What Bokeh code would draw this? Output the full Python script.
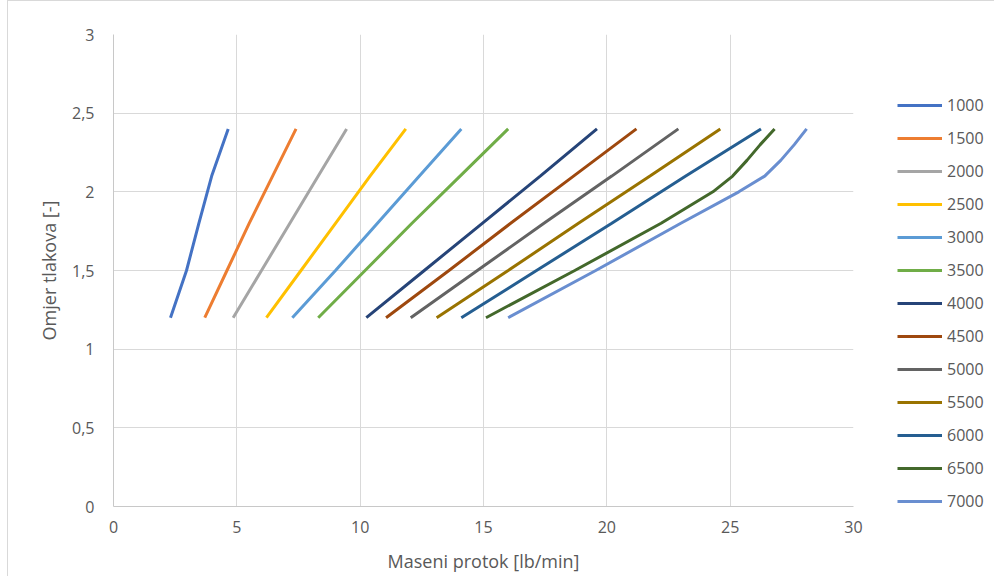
from bokeh.plotting import figure
from bokeh.models import Range1d, FixedTicker, Legend, LegendItem
from bokeh.embed import file_html
from bokeh.resources import INLINE

# Pressure ratio (y) and mass flow (x, lb/min) per speed line
labels = ["1000", "1500", "2000", "2500", "3000", "3500", "4000",
          "4500", "5000", "5500", "6000", "6500", "7000"]
colors = ["#4472C4", "#ED7D31", "#A5A5A5", "#FFC000", "#5B9BD5", "#70AD47",
          "#264478", "#9E480E", "#636363", "#997300", "#255E91", "#43682B", "#698ED0"]

pr_lin = [1.2, 1.5, 1.8, 2.1, 2.4]
pr_curve = [1.2, 1.5, 1.8, 2.0, 2.1, 2.2, 2.3, 2.4]

flow_1000 = [2.31, 2.96, 3.46, 3.98, 4.65]
flow_1500 = [3.7, 4.6, 5.5, 6.45, 7.4]
flow_2000 = [4.85, 6.0, 7.15, 8.3, 9.45]
flow_2500 = [6.2, 7.6, 9.0, 10.4, 11.85]
flow_3000 = [7.25, 9.0, 10.7, 12.4, 14.1]
flow_3500 = [8.3, 10.2, 12.1, 14.05, 16.0]
flow_4000 = [10.25, 12.6, 14.95, 17.3, 19.6]
flow_4500 = [11.05, 13.6, 16.1, 18.65, 21.2]
flow_5000 = [12.05, 14.75, 17.45, 20.2, 22.9]
flow_5500 = [13.1, 16.0, 18.85, 21.75, 24.6]
flow_6000 = [14.1, 17.15, 20.2, 23.2, 26.25]
flow_6500 = [15.1, 18.7, 22.2, 24.3, 25.1, 25.68, 26.22, 26.8]
flow_7000 = [16.0, 19.55, 23.0, 25.35, 26.4, 27.05, 27.6, 28.1]

flows = [flow_1000, flow_1500, flow_2000, flow_2500, flow_3000, flow_3500, flow_4000,
         flow_4500, flow_5000, flow_5500, flow_6000, flow_6500, flow_7000]
prs = [pr_lin] * 11 + [pr_curve, pr_curve]

x_ticks = [0, 5, 10, 15, 20, 25, 30]
y_ticks = [0, 0.5, 1, 1.5, 2, 2.5, 3]
y_tick_labels = ["0", "0,5", "1", "1,5", "2", "2,5", "3"]

FONT = "Open Sans"
TXT = "#595959"

p = figure(frame_width=740, frame_height=472, output_backend="svg", toolbar_location=None,
           x_range=Range1d(0, 30), y_range=Range1d(0, 3),
           min_border_left=105, min_border_right=0, min_border_top=33, min_border_bottom=70)
p.styles = {"margin-left": "7px",
            "border-left": "1px solid #d9d9d9", "border-top": "1px solid #d9d9d9"}
p.outline_line_color = None
p.background_fill_color = "white"
p.border_fill_color = "white"

p.xaxis.ticker = FixedTicker(ticks=x_ticks)
p.yaxis.ticker = FixedTicker(ticks=y_ticks)
p.yaxis.major_label_overrides = {t: s for t, s in zip(y_ticks, y_tick_labels)}

for ax in (p.xaxis, p.yaxis):
    ax.axis_line_color = "#c8c8c8"
    ax.major_tick_line_color = None
    ax.minor_tick_line_color = None
    ax.major_tick_out = 0
    ax.major_label_text_font = FONT
    ax.major_label_text_font_size = "16px"
    ax.major_label_text_color = TXT
    ax.axis_label_text_font = FONT
    ax.axis_label_text_font_size = "18px"
    ax.axis_label_text_font_style = "normal"
    ax.axis_label_text_color = TXT

p.xaxis.axis_label = "Maseni protok [lb/min]"
p.yaxis.axis_label = "Omjer tlakova [-]"
p.yaxis.major_label_standoff = 19
p.xaxis.major_label_standoff = 14
p.yaxis.axis_label_standoff = 8
p.xaxis.axis_label_standoff = 13

p.grid.grid_line_color = "#d9d9d9"
p.grid.grid_line_width = 1

items = []
for lab, col, xs, ys in zip(labels, colors, flows, prs):
    r = p.line(xs, ys, line_color=col, line_width=3)
    items.append(LegendItem(label=lab, renderers=[r]))

legend = Legend(items=items, location=(44, -6), padding=0, margin=0,
                border_line_color=None, background_fill_alpha=0,
                glyph_width=45, glyph_height=20, label_height=20,
                spacing=11, label_standoff=5,
                label_text_font=FONT, label_text_font_size="16px", label_text_color=TXT)
p.add_layout(legend, "right")

open("out.html", "w").write(file_html(p, INLINE))
